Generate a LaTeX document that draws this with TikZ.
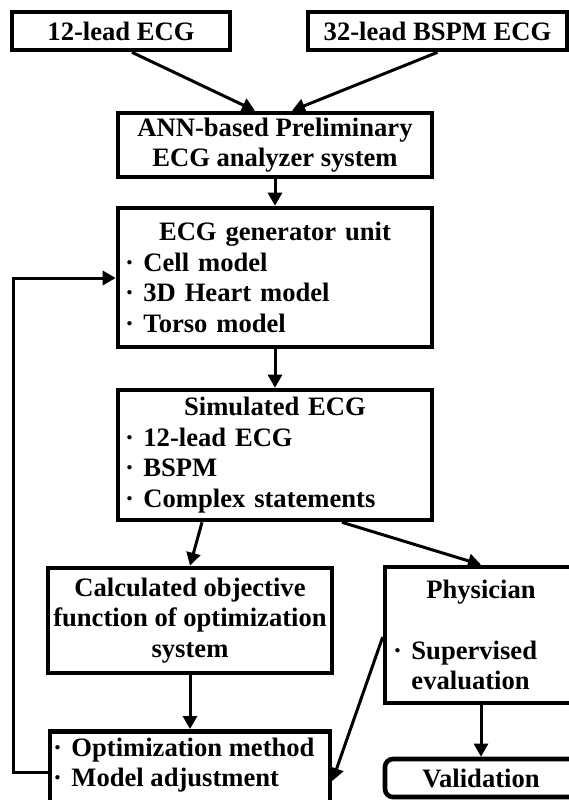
\documentclass[tikz,border=0pt]{standalone}
\usepackage{fontspec}
\setmainfont{Liberation Serif}
\usetikzlibrary{arrows.meta}
\newcommand\bul{·\hspace{0.36em}}
\begin{document}
\begin{tikzpicture}[x=1pt,y=-1pt,
  box/.style={draw, line width=4.6pt, inner sep=2pt, font=\fontsize{26.6pt}{30.5pt}\selectfont\bfseries},
  arr/.style={line width=3pt, -{Triangle[width=14pt,length=13pt]}}]
\useasboundingbox (0,0) rectangle (569,800);
\fill[white] (0,0) rectangle (569,800);
\clip (0,0) rectangle (569,800);

\node[box, minimum width=218pt, minimum height=38pt] (in1) at (121,31) {12-lead ECG};
\node[box, minimum width=259pt, minimum height=38pt] (in2) at (437.5,31) {32-lead BSPM ECG};
\node[box, align=center, minimum width=314pt, minimum height=64pt] (ann) at (275,145) {ANN-based Preliminary\\ECG analyzer system};
\node[box, minimum width=314pt, minimum height=139pt, text width=300pt, align=left] (gen) at (275,277.5)
  {\makebox[300pt][c]{ECG generator unit}\\\bul Cell model\\\bul 3D Heart model\\\bul Torso model};
\node[box, minimum width=314pt, minimum height=130pt, text width=300pt, align=left] (sim) at (275,455)
  {\makebox[300pt][c]{Simulated ECG}\\\bul 12-lead ECG\\\bul BSPM\\\bul Complex statements};
\node[box, align=center, minimum width=284pt, minimum height=105pt] (calc) at (190,620.5)
  {Calculated objective\\function of optimization\\system};
\node[box, minimum width=192pt, minimum height=136pt, text width=176pt, align=left] (phys) at (481,635)
  {\makebox[176pt][c]{Physician}\\[30.5pt]\bul Supervised\\\hphantom{\bul}evaluation};
\node[box, rounded corners=8pt, minimum width=192pt, minimum height=38pt] (val) at (481,778) {Validation};
\node[box, inner sep=0pt, minimum width=280pt, anchor=north] (opt) at (190,729)
  {\parbox[c][84pt][t]{274pt}{\rule{0pt}{25pt}\bul Optimization method\\\bul Model adjustment}};

\coordinate (pA) at (385,637);
\coordinate (pB) at (330,781);
\coordinate (fbA) at (13,772);
\coordinate (fbB) at (13,278);

\draw[arr] ([xshift=11pt]in1.south) -- ([xshift=-20pt]ann.north);
\draw[arr] (in2.south) -- ([xshift=17pt]ann.north);
\draw[arr] (ann.south) -- (gen.north);
\draw[arr] (gen.south) -- (sim.north);
\draw[arr] ([xshift=-73pt]sim.south) -- (calc.north);
\draw[arr] ([xshift=67pt]sim.south) -- (phys.north);
\draw[arr] (calc.south) -- (opt.north);
\draw[arr] (phys.south) -- (val.north);
\draw[arr] (phys.west |- pA) -- (opt.east |- pB);
\draw[arr] (opt.west |- fbA) -- (fbA) -- (fbB) -- (gen.west |- fbB);
\end{tikzpicture}
\end{document}
